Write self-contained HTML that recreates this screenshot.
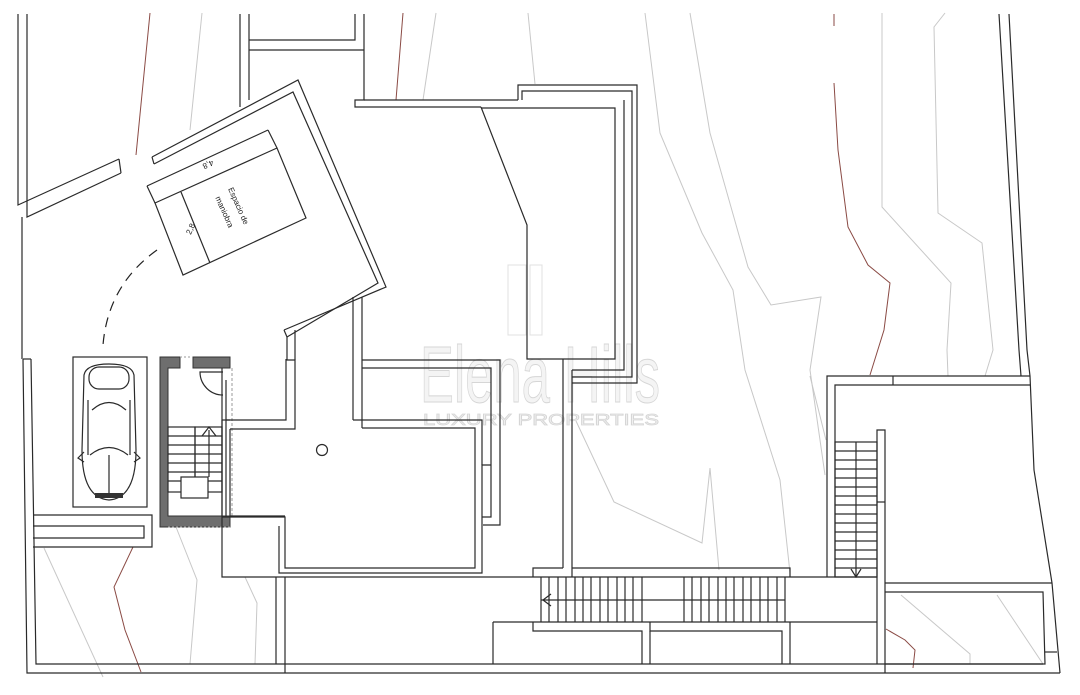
<!DOCTYPE html>
<html><head><meta charset="utf-8"><style>
html,body{margin:0;padding:0;background:#fff;}
svg{display:block}
.l{stroke:#2a2a2a;stroke-width:1.2;fill:none}
.g{stroke:#c8c8c8;stroke-width:1;fill:none}
.r{stroke:#8a4a44;stroke-width:1;fill:none}
.t{font-family:"Liberation Sans",sans-serif;font-size:8px;fill:#222}
</style></head><body>
<svg width="1080" height="695" viewBox="0 0 1080 695" xmlns="http://www.w3.org/2000/svg">
<!-- contours -->
<polyline class="r" points="150,13 136,155"/>
<polyline class="r" points="403,13 396,100"/>
<polyline class="r" points="834,14 834,26"/>
<polyline class="r" points="834,83 838,150 848,227 868,265 890,283 884,330 870,375"/>
<polyline class="r" points="133,547 114,587 125,630 141,672"/>
<polyline class="r" points="886,629 905,640 915,650 913,668"/>
<polyline class="g" points="202,13 190,130"/>
<polyline class="g" points="436,13 423,100"/>
<polyline class="g" points="528,13 535,84"/>
<polyline class="g" points="645,13 660,133 702,233 733,290 745,370 780,480 790,573"/>
<polyline class="g" points="690,13 710,133 748,267 771,305 821,297 810,370 825,475"/>
<polyline class="g" points="882,13 882,207 951,283 947,350 948,376"/>
<polyline class="g" points="945,13 934,27 938,213 982,243 993,350 985,376"/>
<polyline class="g" points="576,421 614,502 702,543 710,468 719,570"/>
<polyline class="g" points="901,595 970,654 970,664"/>
<polyline class="g" points="997,595 1043,664"/>
<polyline class="g" points="44,548 103,677"/>
<polyline class="g" points="176,527 197,580 190,664"/>
<polyline class="g" points="245,577 257,603 255,664"/>
<polyline class="g" points="810,376 826,440"/>

<!-- watermark -->
<text x="540" y="402" text-anchor="middle" font-family="Liberation Sans,sans-serif" font-size="80" textLength="240" lengthAdjust="spacingAndGlyphs" fill="#f4f4f4" stroke="#d6d6d6" stroke-width="1">Elena Hills</text>
<text x="541" y="425" text-anchor="middle" font-family="Liberation Sans,sans-serif" font-size="16" textLength="236" lengthAdjust="spacingAndGlyphs" fill="#f2f2f2" stroke="#d6d6d6" stroke-width="0.8">LUXURY PROPERTIES</text>
<rect x="508" y="265" width="18" height="70" fill="none" stroke="#e0e0e0"/>
<rect x="530" y="265" width="12" height="70" fill="none" stroke="#e0e0e0"/>

<!-- left boundary -->
<polyline class="l" points="18,14 18,205 119,159"/>
<polyline class="l" points="27,14 27,217 121,173"/>
<line class="l" x1="119" y1="159" x2="121" y2="173"/>
<line class="l" x1="22" y1="217" x2="22" y2="359"/>
<polyline class="l" points="23,359 27,673 1060,673"/>
<polyline class="l" points="31,359 36,664 285,664"/>
<line class="l" x1="23" y1="359" x2="31" y2="359"/>

<!-- top left vertical pair and box -->
<line class="l" x1="240" y1="14" x2="240" y2="107"/>
<line class="l" x1="249" y1="14" x2="249" y2="100"/>
<polyline class="l" points="355,14 355,40 249,40"/>
<polyline class="l" points="364,14 364,100 355,100 355,107 481,107"/>
<line class="l" x1="249" y1="50" x2="364" y2="50"/>
<line class="l" x1="364" y1="100" x2="518" y2="100"/>

<!-- rotated room -->
<polyline class="l" points="152,157 298,80 386,287 284,330"/>
<polyline class="l" points="154,164 293,92 378,283 287,337"/>
<line class="l" x1="152" y1="157" x2="154" y2="164"/>
<line class="l" x1="284" y1="330" x2="287" y2="337"/>
<!-- parking rect -->
<polygon class="l" points="155,203 277,148 306,218 183,275" stroke-width="1"/>
<line class="l" x1="147" y1="186" x2="268" y2="130" stroke-width="1"/>
<line class="l" x1="147" y1="186" x2="155" y2="203" stroke-width="1"/>
<line class="l" x1="268" y1="130" x2="277" y2="148" stroke-width="1"/>
<line class="l" x1="181" y1="192" x2="210" y2="263" stroke-width="1"/>
<text class="t" transform="translate(207,162) rotate(156)" text-anchor="middle">4,8</text>
<text class="t" transform="translate(193,230) rotate(-66)" text-anchor="middle">2,8</text>
<text class="t" transform="translate(236,207) rotate(66)" text-anchor="middle">Espacio  de</text>
<text class="t" transform="translate(222,213) rotate(66)" text-anchor="middle">maniobra</text>
<path d="M157,250 Q108,285 103,345" fill="none" stroke="#222" stroke-width="1.2" stroke-dasharray="10,7"/>

<!-- car box -->
<rect class="l" x="73" y="357" width="74" height="150"/>
<path class="l" d="M84,375 Q86,364 109,364 Q132,364 134,375 L136,450 Q136,498 109,500 Q82,498 82,450 Z"/>
<rect class="l" x="89" y="367" width="40" height="22" rx="10"/>
<path class="l" d="M88,400 L88,455 M130,400 L130,455 M92,410 Q109,395 126,410 M90,455 Q109,440 128,455 M109,455 L109,495 M84,462 L78,458 L84,452 M134,462 L140,458 L134,452"/>
<rect x="95" y="493" width="28" height="5" fill="#333"/>

<!-- stair core -->
<path d="M160,357 H180 V368 H168 V516 H230 V527 H160 Z" fill="#6e6e6e" stroke="#333" stroke-width="1"/>
<path d="M193,357 H230 V368 H193 Z" fill="#6e6e6e" stroke="#333" stroke-width="1"/>
<line x1="180" y1="357" x2="193" y2="357" stroke="#999" stroke-dasharray="2,2"/>
<line x1="232" y1="368" x2="232" y2="516" stroke="#999" stroke-dasharray="3,2"/>
<line x1="168" y1="527" x2="230" y2="527" stroke="#999" stroke-dasharray="2,2"/>
<line class="l" x1="222" y1="368" x2="222" y2="516"/>
<line class="l" x1="226" y1="380" x2="226" y2="516"/>
<path class="l" d="M223,372 H200 A23,23 0 0 0 223,395" stroke-width="1"/>
<line class="l" x1="222" y1="420" x2="230" y2="420"/>
<g class="l" stroke-width="1">
<rect x="168" y="427" width="27" height="65"/>
<rect x="195" y="427" width="27" height="65"/>
<line x1="168" y1="436" x2="222" y2="436"/><line x1="168" y1="445" x2="222" y2="445"/>
<line x1="168" y1="454" x2="222" y2="454"/><line x1="168" y1="463" x2="222" y2="463"/>
<line x1="168" y1="472" x2="222" y2="472"/><line x1="168" y1="481" x2="222" y2="481"/>
<rect x="181" y="477" width="27" height="21" fill="#fff"/>
<line x1="209" y1="430" x2="209" y2="477"/>
<polyline points="202,436 209,427 216,436"/>
</g>

<!-- middle building -->
<polyline class="l" points="287,337 287,360 295,360 295,429 230,429"/>
<polyline class="l" points="295,330 295,360"/>
<polyline class="l" points="286,359 286,420 226,420"/>
<line class="l" x1="353" y1="297" x2="353" y2="420"/>
<line class="l" x1="362" y1="297" x2="362" y2="428"/>
<polyline class="l" points="353,420 482,420 482,465"/>
<polyline class="l" points="362,428 475,428 475,568 285,568 285,517 222,517"/>
<polyline class="l" points="222,420 222,577 533,577"/>
<polyline class="l" points="230,429 230,517"/>
<polyline class="l" points="279,526 279,573 482,573 482,465 491,465"/>
<polyline class="l" points="362,360 500,360 500,525 483,525"/>
<polyline class="l" points="362,368 491,368 491,517 482,517"/>
<polyline class="l" points="276,577 276,664"/>
<polyline class="l" points="285,577 285,673"/>
<circle cx="322" cy="450" r="5.5" class="l" stroke-width="1"/>
<!-- lower left bench -->
<polyline class="l" points="33,515 152,515 152,547 33,547"/>
<polyline class="l" points="33,526 144,526 144,538 33,538"/>
<line class="l" x1="230" y1="516" x2="285" y2="516"/>

<!-- right tall box -->
<polyline class="l" points="481,107 527,225 527,359 615,359 615,108 481,108"/>
<polyline class="l" points="518,100 518,85 637,85 637,383 572,383"/>
<polyline class="l" points="522,100 522,91 632,91 632,377 572,377"/>
<polyline class="l" points="624,100 624,370 572,370"/>
<line class="l" x1="563" y1="359" x2="563" y2="568"/>
<line class="l" x1="572" y1="370" x2="572" y2="577"/>
<polyline class="l" points="563,568 533,568 533,577"/>
<polyline class="l" points="572,568 790,568 790,577"/>

<!-- bottom stairs band -->
<line class="l" x1="533" y1="577" x2="877" y2="577"/>
<line class="l" x1="493" y1="622" x2="877" y2="622"/>
<line class="l" x1="541" y1="600" x2="785" y2="600" stroke-width="1"/>
<polyline class="l" points="551,594 543,600 551,606" stroke-width="1"/>
<g class="l" stroke-width="1">
<line x1="541" y1="577" x2="541" y2="622"/><line x1="549" y1="577" x2="549" y2="622"/><line x1="558" y1="577" x2="558" y2="622"/><line x1="566" y1="577" x2="566" y2="622"/><line x1="575" y1="577" x2="575" y2="622"/><line x1="583" y1="577" x2="583" y2="622"/><line x1="591" y1="577" x2="591" y2="622"/><line x1="600" y1="577" x2="600" y2="622"/><line x1="608" y1="577" x2="608" y2="622"/><line x1="617" y1="577" x2="617" y2="622"/><line x1="625" y1="577" x2="625" y2="622"/><line x1="633" y1="577" x2="633" y2="622"/><line x1="642" y1="577" x2="642" y2="622"/>
<line x1="684" y1="577" x2="684" y2="622"/><line x1="692" y1="577" x2="692" y2="622"/><line x1="701" y1="577" x2="701" y2="622"/><line x1="709" y1="577" x2="709" y2="622"/><line x1="718" y1="577" x2="718" y2="622"/><line x1="726" y1="577" x2="726" y2="622"/><line x1="734" y1="577" x2="734" y2="622"/><line x1="743" y1="577" x2="743" y2="622"/><line x1="751" y1="577" x2="751" y2="622"/><line x1="760" y1="577" x2="760" y2="622"/><line x1="768" y1="577" x2="768" y2="622"/><line x1="777" y1="577" x2="777" y2="622"/><line x1="785" y1="577" x2="785" y2="622"/>
</g>
<polyline class="l" points="493,622 493,664"/>
<polyline class="l" points="533,622 533,631 642,631 642,664"/>
<polyline class="l" points="650,622 650,631 782,631 782,664"/>
<line class="l" x1="650" y1="631" x2="650" y2="664"/>
<line class="l" x1="790" y1="622" x2="790" y2="664"/>
<line class="l" x1="285" y1="664" x2="1043" y2="664"/>

<!-- right building -->
<polyline class="l" points="827,577 827,376 1030,376"/>
<polyline class="l" points="835,577 835,385 1030,385"/>
<line class="l" x1="893" y1="376" x2="893" y2="385"/>
<g class="l" stroke-width="1">
<rect x="835" y="442" width="42" height="135"/>
<line x1="856" y1="442" x2="856" y2="577"/>
<polyline points="851,569 856,577 861,569"/>
<line x1="835" y1="451" x2="877" y2="451"/><line x1="835" y1="460" x2="877" y2="460"/><line x1="835" y1="469" x2="877" y2="469"/><line x1="835" y1="478" x2="877" y2="478"/><line x1="835" y1="487" x2="877" y2="487"/><line x1="835" y1="496" x2="877" y2="496"/><line x1="835" y1="505" x2="877" y2="505"/><line x1="835" y1="514" x2="877" y2="514"/><line x1="835" y1="523" x2="877" y2="523"/><line x1="835" y1="532" x2="877" y2="532"/><line x1="835" y1="541" x2="877" y2="541"/><line x1="835" y1="550" x2="877" y2="550"/><line x1="835" y1="559" x2="877" y2="559"/><line x1="835" y1="568" x2="877" y2="568"/>
</g>
<polyline class="l" points="877,664 877,430 885,430 885,673"/>
<line class="l" x1="877" y1="502" x2="885" y2="502"/>
<line class="l" x1="885" y1="583" x2="1052" y2="583"/>
<polyline class="l" points="885,592 1043,592 1045,664 885,664"/>
<polyline class="l" points="1045,652 1057,652"/>
<!-- right boundary -->
<polyline class="l" points="999,14 1019,350 1021,376"/>
<polyline class="l" points="1009,14 1027,350 1030,376 1034,470 1052,583 1060,673"/>
</svg>
</body></html>
